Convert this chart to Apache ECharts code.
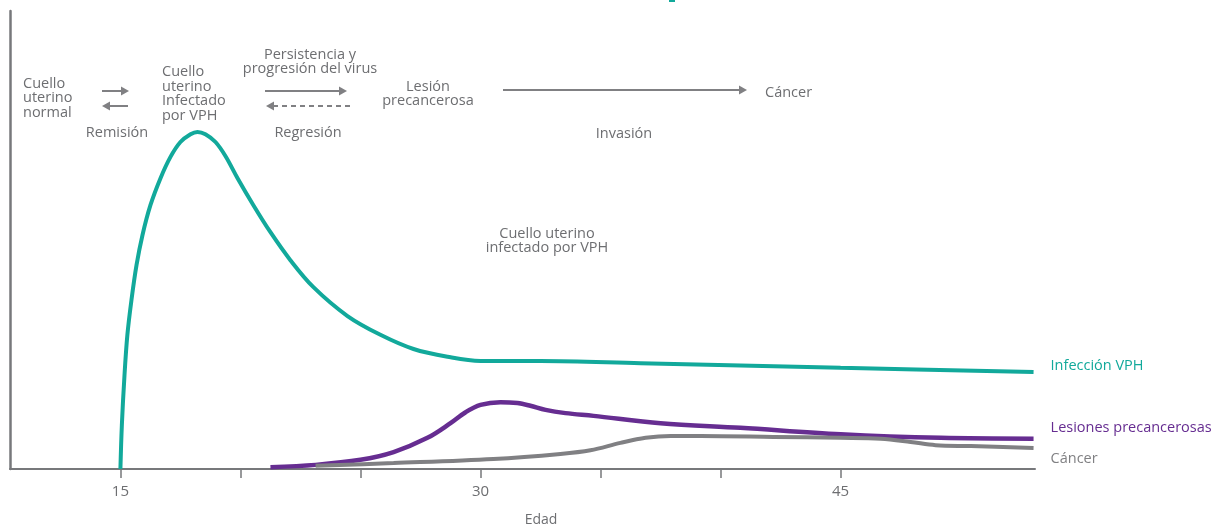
<!DOCTYPE html>
<html>
<head>
<meta charset="utf-8">
<script src="https://cdn.jsdelivr.net/npm/echarts@6/dist/echarts.min.js"></script>
<style>
html,body{margin:0;padding:0;background:#fff;}
#chart{width:1224px;height:527px;}
</style>
</head>
<body>
<div id="chart"></div>
<script>
// ---- data (age, relative level) ----
const infeccionVPH = [
  [15.0, 0], [15.06, 9.6], [15.17, 20.5], [15.29, 29.3], [15.46, 36.9], [15.67, 44.5],
  [15.92, 51.1], [16.25, 57.6], [16.67, 63.5], [17.08, 68.1], [17.5, 71.4], [17.92, 73.1],
  [18.21, 73.6], [18.54, 73.1], [18.96, 71.4], [19.38, 68.3], [19.88, 63.5], [20.54, 57.6],
  [21.25, 51.7], [22.08, 45.6], [23.04, 39.7], [24.46, 33.4], [25.83, 29.3], [27.21, 26.2],
  [28.63, 24.5], [30.0, 23.6], [32.5, 23.6], [36.67, 23.1], [45.0, 22.1], [53.04, 21.2]
];
const lesionesPrecancerosas = [
  [21.25, 0.4], [23.13, 0.9], [25.0, 2.0], [26.38, 3.7], [27.79, 6.8], [28.75, 10.0],
  [29.38, 12.4], [30.0, 14.0], [30.83, 14.6], [31.54, 14.4], [32.08, 13.8], [32.71, 12.9],
  [33.54, 12.2], [34.71, 11.6], [37.5, 10.0], [40.83, 9.0], [45.0, 7.6], [49.17, 6.8],
  [53.04, 6.6]
];
const cancer = [
  [23.13, 0.7], [26.38, 1.3], [30.54, 2.2], [33.33, 3.3], [34.58, 4.1], [35.83, 5.7],
  [36.88, 6.8], [37.92, 7.2], [39.17, 7.2], [42.21, 7.0], [45.0, 6.8], [46.67, 6.6],
  [47.92, 5.9], [48.96, 5.2], [50.42, 5.0], [53.04, 4.6]
];
const seriesNames = ['Infección VPH', 'Lesiones precancerosas', 'Cáncer'];
const xTicks = [15, 20, 25, 30, 35, 40, 45];
const xLabels = [15, 30, 45];
const axisName = 'Edad';

const TEAL = '#12a99b', PURPLE = '#662d91', GRAY = '#808083', TXT = '#6d6e71';
const FONT = '"Open Sans", "Noto Sans", sans-serif';

const chart = echarts.init(document.getElementById('chart'), null, {renderer: 'canvas'});

function txt(x, y, text, align, lh) {
  return {type: 'text', x: x, y: y, style: {text: text, fill: TXT, font: '14.5px ' + FONT,
    textAlign: align || 'center', textVerticalAlign: 'middle', lineHeight: lh || 14.5}};
}
function arrow(x1, x2, y, dashed) {
  const dir = x2 > x1 ? 1 : -1;
  const tip = x2, base = x2 - dir * 8;
  return [
    {type: 'line', shape: {x1: x1, y1: y, x2: base + dir * 1, y2: y},
      style: {stroke: GRAY, lineWidth: 2, lineDash: dashed ? [5, 4] : null}},
    {type: 'polygon', shape: {points: [[tip, y], [base, y - 4.5], [base, y + 4.5]]},
      style: {fill: GRAY}}
  ];
}

const graphics = [
  {type: 'rect', shape: {x: 669, y: 0, width: 6, height: 2}, style: {fill: TEAL}},
  txt(23, 98, 'Cuello\nuterino\nnormal', 'left'),
  ...arrow(102, 129, 91, false),
  ...arrow(128, 102, 106, false),
  txt(117, 133, 'Remisión'),
  txt(162, 94, 'Cuello\nuterino\nInfectado\npor VPH', 'left'),
  txt(310, 62, 'Persistencia y\nprogresión del virus'),
  ...arrow(265, 347, 91, false),
  ...arrow(350, 266, 106, true),
  txt(308, 133, 'Regresión'),
  txt(428, 94, 'Lesión\nprecancerosa'),
  ...arrow(503, 747, 90, false),
  txt(765, 93, 'Cáncer', 'left'),
  txt(624, 134, 'Invasión'),
  txt(547, 241, 'Cuello uterino\ninfectado por VPH')
];

function lineSeries(name, data, color, width, dy) {
  return {
    name: name, type: 'line', data: data, smooth: 0.35, showSymbol: false, symbol: 'none',
    lineStyle: {color: color, width: width, cap: 'butt'},
    itemStyle: {color: color},
    endLabel: {show: true, formatter: name, color: color, fontSize: 14.5, fontFamily: FONT,
      offset: [9, dy]},
    emphasis: {disabled: true},
    animation: false
  };
}

chart.setOption({
  animation: false,
  grid: {left: 10, right: 189, top: 11, bottom: 58, outerBoundsMode: 'none', containLabel: false},
  xAxis: {
    type: 'value', min: 10.4, max: 53.1,
    name: axisName, nameLocation: 'middle', nameGap: 44,
    nameTextStyle: {color: TXT, fontSize: 14, fontFamily: FONT, padding: [0, 0, 0, 37]},
    axisLine: {show: true, lineStyle: {color: '#77787b', width: 2}},
    axisTick: {show: true, customValues: xTicks, length: 9, lineStyle: {color: '#77787b', width: 1.5}},
    axisLabel: {show: true, customValues: xLabels, margin: 15, color: TXT, fontSize: 15, fontFamily: FONT},
    splitLine: {show: false}
  },
  yAxis: {
    type: 'value', min: 0, max: 100,
    axisLine: {show: true, lineStyle: {color: '#77787b', width: 2.5}},
    axisTick: {show: false}, axisLabel: {show: false}, splitLine: {show: false}
  },
  series: [
    lineSeries(seriesNames[0], infeccionVPH, TEAL, 4, -6),
    lineSeries(seriesNames[1], lesionesPrecancerosas, PURPLE, 4.5, -11),
    lineSeries(seriesNames[2], cancer, GRAY, 4, 11)
  ],
  graphic: graphics
});
</script>
</body>
</html>
